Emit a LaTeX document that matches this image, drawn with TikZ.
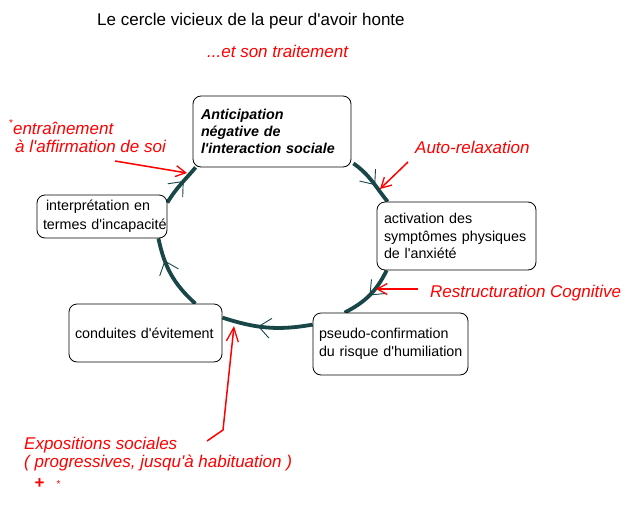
\documentclass[tikz,border=0pt]{standalone}
\usepackage{fontspec}
\setmainfont{Liberation Sans}
\newfontfamily\arialf{Liberation Sans}
\usetikzlibrary{arrows.meta,decorations.markings,backgrounds,calc}
\definecolor{cyc}{RGB}{25,70,70}
\definecolor{lblred}{RGB}{255,0,0}
\tikzset{
  box/.style={draw=black, line width=0.8pt, rounded corners=8pt, fill=white,
    align=left, inner xsep=6pt, inner ysep=0pt,
    font=\arialf\fontsize{14.3}{17.5}\selectfont},
  cycleline/.style={draw=cyc, line width=3.8pt},
  midarrow/.style={postaction={decorate, decoration={markings,
    mark=at position #1 with {\arrow[cyc]{Straight Barb[length=12pt,width=20pt,line width=0.9pt]}}}}},
  redlbl/.style={text=lblred, font=\arialf\fontsize{17}{19}\selectfont\itshape,
    inner sep=0pt, anchor=base west},
  redarrow/.style={draw=lblred, line width=1.5pt,
    -{Straight Barb[length=10pt,width=11pt,line width=1.3pt]}},
  titlelbl/.style={font=\arialf\fontsize{17}{20}\selectfont, inner sep=0pt, anchor=base west}
}
\begin{document}
\begin{tikzpicture}[x=1pt,y=1pt]
\useasboundingbox (0,0) rectangle (640,-512);

% title
\node[titlelbl] (ttl) at (97,-25) {Le cercle vicieux de la peur d'avoir honte};
\node[redlbl] (sub) at (207,-57) {...et son traitement};

% boxes
\node[box, minimum width=158pt, minimum height=71pt, text width=142pt, inner xsep=8pt,
  font=\arialf\fontsize{14.3}{17}\selectfont\bfseries\itshape] (ant) at (272,-131.5)
  {Anticipation\\négative de\\\mbox{l'interaction sociale}};
\node[box, minimum width=130pt, minimum height=43pt, text width=118pt,
  font=\arialf\fontsize{14.3}{19}\selectfont] (interp) at (102,-216.5)
  {\hspace*{3pt}interprétation en\\\mbox{termes d'incapacité}};
\node[box, minimum width=159pt, minimum height=68pt, text width=145pt, inner xsep=7pt] (act) at (456.5,-236)
  {activation des\\\mbox{symptômes physiques}\\de l'anxiété};
\node[box, minimum width=155pt, minimum height=62pt, text width=143pt] (pseudo) at (390.5,-344)
  {pseudo-confirmation\\\mbox{du risque d'humiliation}};
\node[box, minimum width=153pt, minimum height=58pt, text width=141pt] (cond) at (145.5,-333)
  {\mbox{conduites d'évitement}};

% vicious circle (behind the boxes)
\begin{scope}[on background layer]
\fill[white] (0,0) rectangle (640,-512);
\draw[cycleline, midarrow=0.6] ($(ant.south east)+(2,4)$) to[out=-35,in=129] ($(act.north west)+(11,0)$);
\draw[cycleline, midarrow=0.5] ($(act.south west)+(10,0)$) to[out=-116,in=27] ($(pseudo.north west)+(32,0)$);
\draw[cycleline, midarrow=0.6] ($(pseudo.north west)+(0,-12)$) to[out=-170,in=-18] ($(cond.north east)+(0,-14)$);
\draw[cycleline, midarrow=0.7] ($(cond.north east)+(-27,0)$) to[out=138,in=-78] ($(interp.south east)+(-9,0)$);
\draw[cycleline, midarrow=0.6] ($(interp.north east)+(0,-8)$) to[out=59,in=-130] ($(ant.south west)+(3,0)$);
\end{scope}

% treatment labels
\node[redlbl] (aff1) at (9,-134) {\raisebox{8pt}{\upshape\fontsize{10}{10}\selectfont *}entraînement};
\node[redlbl] (aff2) at (15,-152) {à l'affirmation de soi};
\node[redlbl] (auto) at (415,-153) {Auto-relaxation};
\node[redlbl] (restr) at (430,-297.5) {Restructuration Cognitive};
\node[redlbl] (expo1) at (24,-449) {Expositions sociales};
\node[redlbl] (expo2) at (24,-467) {( progressives, jusqu'à habituation )};
\node[redlbl, font=\arialf\fontsize{17}{19}\selectfont] (plus) at (34.5,-488.5)
  {\textbf{+}\hspace{12pt}\raisebox{1pt}{\fontsize{10}{10}\selectfont *}};

% treatment arrows
\coordinate (r1s) at (115,-161); \coordinate (r1e) at (187,-173);
\coordinate (r2s) at (408,-162); \coordinate (r2e) at (380,-189);
\coordinate (r3s) at (418,-289); \coordinate (r3e) at (376,-289);
\coordinate (r4s) at (207,-441); \coordinate (r4m) at (223,-430); \coordinate (r4e) at (234,-326);
\draw[redarrow] (r1s) -- (r1e);
\draw[redarrow] (r2s) -- (r2e);
\draw[redarrow] (r3s) -- (r3e);
\draw[redarrow, -{Straight Barb[length=14pt,width=12pt,line width=1.3pt]}] (r4s) -- (r4m) -- (r4e);
\end{tikzpicture}
\end{document}
